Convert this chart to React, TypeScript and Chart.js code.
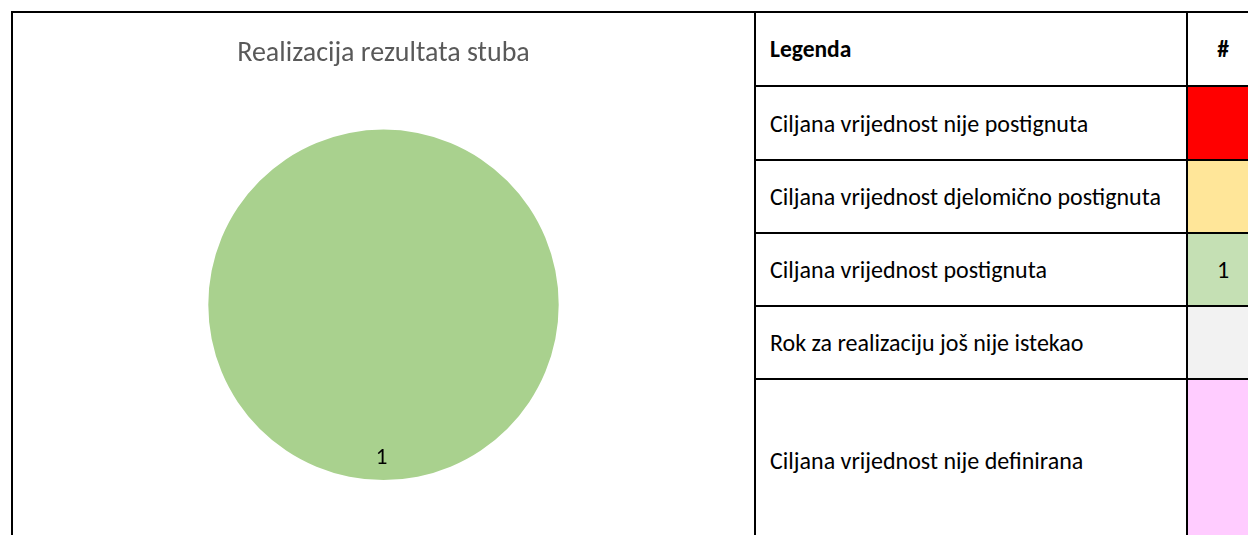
import React, { useEffect, useRef } from "react";
import { Chart, registerables } from "chart.js";

Chart.register(...registerables);

const chartTitle = "Realizacija rezultata stuba";
const legendHeader = "Legenda";
const countHeader = "#";
const categories = [
  "Ciljana vrijednost nije postignuta",
  "Ciljana vrijednost djelomično postignuta",
  "Ciljana vrijednost postignuta",
  "Rok za realizaciju još nije istekao",
  "Ciljana vrijednost nije definirana",
];
const counts = [0, 0, 1, 0, 0];
const pieColors = ["#FF0000", "#FFC000", "#A9D18E", "#D9D9D9", "#FF99FF"];
const cellColors = ["#FF0000", "#FFE699", "#C5E0B4", "#F2F2F2", "#FFCCFF"];

const FONT = "Calibri, Carlito, Lato, 'Open Sans', sans-serif";

// layout (page pixels)
const rowLines = [11, 85, 159, 232, 305, 378, 541];

const sliceLabels = {
  id: "sliceLabels",
  afterDatasetsDraw(chart: any) {
    const ctx = chart.ctx;
    const meta = chart.getDatasetMeta(0);
    const data = chart.data.datasets[0].data;
    meta.data.forEach((arc: any, i: number) => {
      const v = data[i];
      if (!v) return;
      const p = arc.getProps(["x", "y", "startAngle", "endAngle", "outerRadius"], true);
      const mid = (p.startAngle + p.endAngle) / 2;
      const r = p.outerRadius * 0.875;
      ctx.save();
      ctx.font = `23px ${FONT}`;
      ctx.fillStyle = "#000";
      ctx.textAlign = "center";
      ctx.textBaseline = "middle";
      ctx.fillText(String(v), p.x - 2 + Math.cos(mid) * r, p.y + Math.sin(mid) * r);
      ctx.restore();
    });
  },
};

function PieChart() {
  const ref = useRef<HTMLCanvasElement>(null);
  useEffect(() => {
    if (!ref.current) return;
    const chart = new Chart(ref.current, {
      type: "pie",
      data: {
        labels: categories,
        datasets: [
          {
            data: counts,
            backgroundColor: pieColors,
            borderWidth: 0,
            hoverOffset: 0,
            offset: 0,
          },
        ],
      },
      options: {
        animation: false,
        responsive: false,
        events: [],
        layout: { padding: { top: 0, bottom: 55, left: 0, right: 0 } },
        plugins: {
          legend: { display: false },
          tooltip: { enabled: false },
          title: {
            display: true,
            text: chartTitle,
            color: "#595959",
            font: { family: FONT, size: 28, weight: "normal" },
            padding: { top: 24, bottom: 59 },
          },
        },
      },
      plugins: [sliceLabels],
    });
    return () => chart.destroy();
  }, []);
  return <canvas ref={ref} width={741} height={522} style={{ display: "block" }} />;
}

export default function App() {
  const line = (s: React.CSSProperties) => (
    <div style={{ position: "absolute", background: "#000", ...s }} />
  );
  return (
    <div
      style={{
        position: "fixed",
        left: 0,
        top: 0,
        width: 1248,
        height: 535,
        overflow: "hidden",
        background: "#fff",
        fontFamily: FONT,
      }}
    >
      <div style={{ position: "absolute", left: 13, top: 13, width: 741, height: 522 }}>
        <PieChart />
      </div>
      {/* header row */}
      <div
        style={{
          position: "absolute",
          left: 770,
          top: rowLines[0] + 2,
          height: rowLines[1] - rowLines[0] - 2,
          display: "flex",
          alignItems: "center",
          fontWeight: "bold",
          fontSize: 23.5,
          color: "#000",
        }}
      >
        {legendHeader}
      </div>
      <div
        style={{
          position: "absolute",
          left: 1188,
          width: 70,
          top: rowLines[0] + 2,
          height: rowLines[1] - rowLines[0] - 2,
          display: "flex",
          alignItems: "center",
          justifyContent: "center",
          fontWeight: "bold",
          fontSize: 23.5,
          color: "#000",
        }}
      >
        {countHeader}
      </div>
      {categories.map((c, i) => (
        <React.Fragment key={c}>
          <div
            style={{
              position: "absolute",
              left: 770,
              top: rowLines[i + 1] + 2,
              height: rowLines[i + 2] - rowLines[i + 1] - 2,
              display: "flex",
              alignItems: "center",
              fontSize: 24,
              color: "#000",
              whiteSpace: "nowrap",
            }}
          >
            {c}
          </div>
          <div
            style={{
              position: "absolute",
              left: 1188,
              width: 70,
              top: rowLines[i + 1] + 2,
              height: rowLines[i + 2] - rowLines[i + 1] - 2,
              background: cellColors[i],
              display: "flex",
              alignItems: "center",
              justifyContent: "center",
              fontSize: 24,
              color: "#000",
            }}
          >
            {counts[i] ? String(counts[i]) : ""}
          </div>
        </React.Fragment>
      ))}
      {line({ left: 11, top: 11, width: 1300, height: 2 })}
      {line({ left: 11, top: 11, width: 2, height: 600 })}
      {line({ left: 754, top: 11, width: 2, height: 600 })}
      {line({ left: 1186, top: 11, width: 2, height: 600 })}
      {rowLines.slice(1).map((y) => (
        <React.Fragment key={y}>{line({ left: 754, top: y, width: 600, height: 2 })}</React.Fragment>
      ))}
    </div>
  );
}
